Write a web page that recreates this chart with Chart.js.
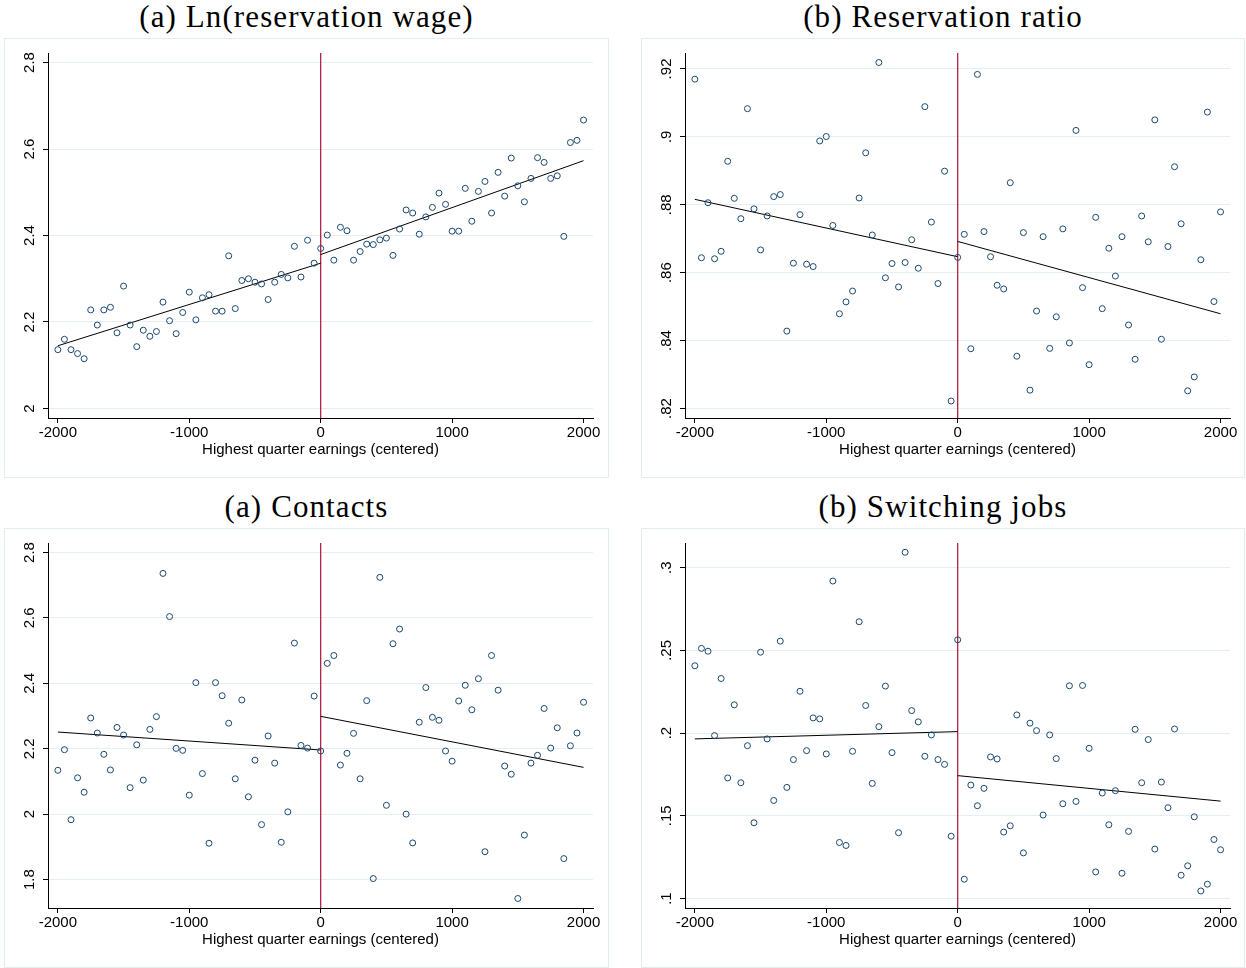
<!DOCTYPE html>
<html>
<head>
<meta charset="utf-8">
<script src="https://cdn.jsdelivr.net/npm/chart.js@4.4.0/dist/chart.umd.min.js"></script>
<style>
  body { margin: 0; background: #fff; width: 1246px; height: 968px; position: relative; overflow: hidden; }
  .ttl { position: absolute; font-family: 'Liberation Serif', serif; font-size: 31px; color: #000;
         text-align: center; white-space: nowrap; line-height: 34px; letter-spacing: 1.1px; }
  .box { position: absolute; border: 1px solid #e3ecef; box-sizing: border-box; }
  canvas { position: absolute; }
</style>
</head>
<body>

<div class="ttl" style="left:4px;top:0px;width:605px;">(a) Ln(reservation wage)</div>
<div class="ttl" style="left:641px;top:0px;width:604px;">(b) Reservation ratio</div>
<div class="ttl" style="left:4px;top:490px;width:605px;">(a) Contacts</div>
<div class="ttl" style="left:641px;top:490px;width:604px;">(b) Switching jobs</div>

<div class="box" style="left:4px;top:38px;width:605px;height:440px;"></div>
<div class="box" style="left:641px;top:38px;width:604px;height:440px;"></div>
<div class="box" style="left:4px;top:528px;width:605px;height:440px;"></div>
<div class="box" style="left:641px;top:528px;width:604px;height:440px;"></div>

<canvas id="wage" width="605" height="440" style="left:4px;top:38px;"></canvas>
<canvas id="ratio" width="604" height="440" style="left:641px;top:38px;"></canvas>
<canvas id="contacts" width="605" height="440" style="left:4px;top:528px;"></canvas>
<canvas id="switching" width="604" height="440" style="left:641px;top:528px;"></canvas>

<script>
// bins of highest quarter earnings (centered)
const bins = [
  -2000, -1950, -1900, -1850, -1800, -1750, -1700, -1650, -1600, -1550,
  -1500, -1450, -1400, -1350, -1300, -1250, -1200, -1150, -1100, -1050,
  -1000, -950, -900, -850, -800, -750, -700, -650, -600, -550,
  -500, -450, -400, -350, -300, -250, -200, -150, -100, -50,
  0, 50, 100, 150, 200, 250, 300, 350, 400, 450,
  500, 550, 600, 650, 700, 750, 800, 850, 900, 950,
  1000, 1050, 1100, 1150, 1200, 1250, 1300, 1350, 1400, 1450,
  1500, 1550, 1600, 1650, 1700, 1750, 1800, 1850, 1900, 1950, 2000
];

const wageMeans = [
  2.136, 2.160, 2.136, 2.127, 2.115, 2.228, 2.193, 2.228, 2.234, 2.175,
  2.283, 2.193, 2.143, 2.181, 2.167, 2.178, 2.246, 2.203, 2.173, 2.222,
  2.269, 2.205, 2.256, 2.263, 2.225, 2.225, 2.353, 2.231, 2.296, 2.300,
  2.292, 2.288, 2.252, 2.292, 2.310, 2.302, 2.375, 2.304, 2.389, 2.336,
  2.370, 2.401, 2.343, 2.419, 2.411, 2.343, 2.363, 2.380, 2.379, 2.390,
  2.394, 2.354, 2.415, 2.459, 2.452, 2.403, 2.443, 2.465, 2.498, 2.472,
  2.410, 2.410, 2.509, 2.433, 2.502, 2.525, 2.452, 2.546, 2.491, 2.579,
  2.515, 2.478, 2.532, 2.580, 2.569, 2.532, 2.538, 2.398, 2.615, 2.620, 2.667
];

const ratioMeans = [
  .9170, .8644, .8806, .8641, .8663, .8928, .8819, .8759, .9083, .8788,
  .8667, .8767, .8824, .8830, .8428, .8628, .8771, .8625, .8618, .8988,
  .9001, .8739, .8479, .8514, .8546, .8820, .8953, .8711, .9219, .8585,
  .8627, .8558, .8630, .8697, .8613, .9089, .8749, .8568, .8899, .8222,
  .8645, .8713, .8376, .9184, .8721, .8647, .8563, .8552, .8865, .8354,
  .8718, .8254, .8487, .8706, .8377, .8470, .8729, .8393, .9019, .8556,
  .8329, .8763, .8494, .8672, .8590, .8706, .8446, .8345, .8767, .8691,
  .9050, .8404, .8677, .8912, .8744, .8252, .8293, .8638, .9073, .8515, .8779
];

const contactMeans = [
  2.134, 2.197, 1.983, 2.111, 2.067, 2.294, 2.248, 2.183, 2.135, 2.265,
  2.242, 2.081, 2.212, 2.104, 2.259, 2.298, 2.736, 2.604, 2.201, 2.195,
  2.058, 2.402, 2.124, 1.911, 2.402, 2.362, 2.278, 2.108, 2.349, 2.053,
  2.165, 1.968, 2.239, 2.156, 1.914, 2.007, 2.523, 2.210, 2.202, 2.361,
  2.193, 2.461, 2.485, 2.150, 2.186, 2.247, 2.108, 2.347, 1.803, 2.724,
  2.027, 2.521, 2.566, 2.000, 1.912, 2.281, 2.387, 2.296, 2.287, 2.193,
  2.162, 2.346, 2.394, 2.319, 2.414, 1.885, 2.485, 2.379, 2.147, 2.122,
  1.742, 1.936, 2.156, 2.180, 2.323, 2.202, 2.264, 1.864, 2.209, 2.248, 2.342
];

const switchMeans = [
  .2407, .2512, .2495, .1985, .2330, .1729, .2171, .1700, .1924, .1458,
  .2489, .1965, .1593, .2556, .1672, .1840, .2253, .1894, .2092, .2086,
  .1874, .2919, .1339, .1321, .1890, .2673, .2167, .1696, .2039, .2284,
  .1882, .1398, .3093, .2136, .2068, .1860, .1989, .1840, .1811, .1377,
  .2564, .1117, .1686, .1561, .1666, .1856, .1844, .1402, .1440, .2110,
  .1276, .2060, .2015, .1505, .1989, .1846, .1573, .2286, .1587, .2288,
  .1908, .1161, .1638, .1446, .1652, .1153, .1406, .2023, .1700, .1961,
  .1299, .1704, .1549, .2025, .1141, .1198, .1494, .1046, .1087, .1357, .1295
];

// linear fits either side of the cutoff (endpoints)
const fitLeftX = [-2000, 0];
const fitRightX = [0, 2000];
const wageFitLeft = [2.145, 2.336],     wageFitRight = [2.356, 2.573];
const ratioFitLeft = [.8816, .8647],    ratioFitRight = [.8692, .8479];
const contactFitLeft = [2.251, 2.196],  contactFitRight = [2.299, 2.143];
const switchFitLeft = [.1965, .2009],   switchFitRight = [.1743, .1589];

// axes
const xTicks = [-2000, -1000, 0, 1000, 2000];
const xRange = [-2075, 2072];
const cutoff = 0;
const wageTicks = [2, 2.2, 2.4, 2.6, 2.8];
const wageLabels = ['2', '2.2', '2.4', '2.6', '2.8'];
const ratioTicks = [.82, .84, .86, .88, .9, .92];
const ratioLabels = ['.82', '.84', '.86', '.88', '.9', '.92'];
const contactTicks = [1.8, 2, 2.2, 2.4, 2.6, 2.8];
const contactLabels = ['1.8', '2', '2.2', '2.4', '2.6', '2.8'];
const switchTicks = [.1, .15, .2, .25, .3];
const switchLabels = ['.1', '.15', '.2', '.25', '.3'];

const navy = '#1a476f';
const red = '#a8113a';
const gridCol = '#e6eef1';
const sans = 'Liberation Sans';

function pairs(xv, yv) {
  return xv.map((x, i) => ({ x: x, y: yv[i] }));
}

function makePanel(id, means, fitL, fitR, yTicks, yLabels, yMin, yMax) {
  const canvas = document.getElementById(id);
  const extras = {
    id: 'extras_' + id,
    beforeDatasetsDraw(chart) {
      const { ctx, chartArea: a, scales: { x } } = chart;
      const px = x.getPixelForValue(cutoff);
      ctx.save();
      ctx.strokeStyle = red;
      ctx.lineWidth = 1.2;
      ctx.beginPath();
      ctx.moveTo(px, a.top);
      ctx.lineTo(px, a.bottom);
      ctx.stroke();
      ctx.restore();
    },
    afterDraw(chart) {
      const { ctx, chartArea: a, scales: { y } } = chart;
      ctx.save();
      ctx.font = '15px "' + sans + '"';
      ctx.fillStyle = '#000';
      ctx.textAlign = 'center';
      ctx.textBaseline = 'middle';
      yTicks.forEach((v, i) => {
        const py = y.getPixelForValue(v);
        ctx.save();
        ctx.translate(a.left - 18, py);
        ctx.rotate(-Math.PI / 2);
        ctx.fillText(yLabels[i], 0, 0);
        ctx.restore();
      });
      ctx.restore();
    }
  };

  return new Chart(canvas.getContext('2d'), {
    type: 'scatter',
    data: {
      datasets: [
        {
          data: pairs(bins, means),
          pointStyle: 'circle',
          pointRadius: 3,
          pointBorderWidth: 1,
          pointBorderColor: navy,
          pointBackgroundColor: 'rgba(0,0,0,0)',
          showLine: false
        },
        {
          data: pairs(fitLeftX, fitL),
          showLine: true, pointRadius: 0, borderColor: '#000', borderWidth: 1
        },
        {
          data: pairs(fitRightX, fitR),
          showLine: true, pointRadius: 0, borderColor: '#000', borderWidth: 1
        }
      ]
    },
    options: {
      responsive: false,
      animation: false,
      layout: { autoPadding: false, padding: { left: 0, top: 15, right: canvas.width - 589, bottom: 0 } },
      plugins: { legend: { display: false }, tooltip: { enabled: false } },
      scales: {
        x: {
          type: 'linear',
          min: xRange[0], max: xRange[1],
          afterBuildTicks: (s) => { s.ticks = xTicks.map(v => ({ value: v })); },
          afterFit: (s) => { s.height = 60; },
          ticks: { color: '#000', font: { family: sans, size: 15 }, padding: 1, maxRotation: 0, autoSkip: false,
                   callback: (v) => String(v) },
          grid: { drawOnChartArea: false, tickLength: 5, tickColor: '#000' },
          border: { color: '#000', width: 1 },
          title: { display: true, text: 'Highest quarter earnings (centered)', color: '#000',
                   font: { family: sans, size: 15 }, padding: { top: 0, bottom: 19 } }
        },
        y: {
          min: yMin, max: yMax,
          afterBuildTicks: (s) => { s.ticks = yTicks.map(v => ({ value: v })); },
          afterFit: (s) => { s.width = 44; },
          ticks: { display: false },
          grid: { color: gridCol, lineWidth: 1, tickLength: 5, tickColor: '#000' },
          border: { color: '#000', width: 1 }
        }
      }
    },
    plugins: [extras]
  });
}

makePanel('wage', wageMeans, wageFitLeft, wageFitRight, wageTicks, wageLabels, 1.978, 2.822);
makePanel('ratio', ratioMeans, ratioFitLeft, ratioFitRight, ratioTicks, ratioLabels, .8172, .9247);
makePanel('contacts', contactMeans, contactFitLeft, contactFitRight, contactTicks, contactLabels, 1.713, 2.829);
makePanel('switching', switchMeans, switchFitLeft, switchFitRight, switchTicks, switchLabels, .0943, .3149);
</script>
</body>
</html>
